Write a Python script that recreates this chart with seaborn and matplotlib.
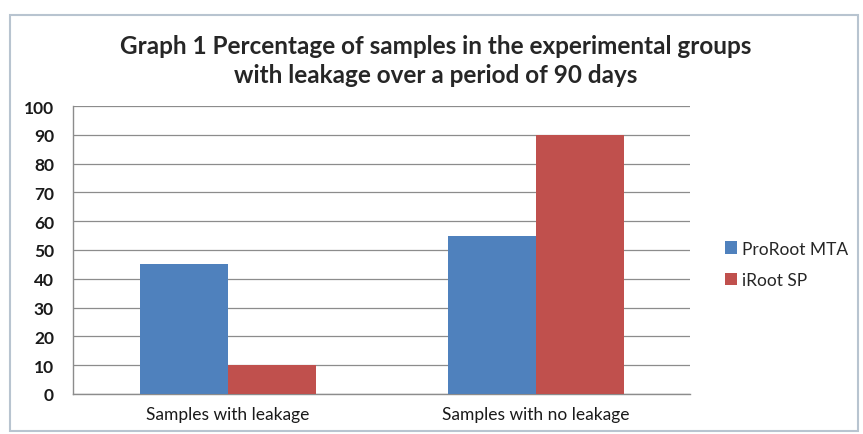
import seaborn as sns
import pandas as pd
from matplotlib import pyplot as plt
from matplotlib.patches import Rectangle

# values
categories = ["Samples with leakage", "Samples with no leakage"]
proroot_mta = [45, 55]
iroot_sp = [10, 90]
series_names = ["ProRoot MTA", "iRoot SP"]

df = pd.DataFrame({
    "category": categories * 2,
    "value": proroot_mta + iroot_sp,
    "material": [series_names[0]] * 2 + [series_names[1]] * 2,
})

sns.set_style("white")
plt.rcParams['font.family'] = ['Lato', 'DejaVu Sans']

fig = plt.figure(figsize=(8.63, 4.35), dpi=100)
ax = fig.add_axes([0.085, 0.092, 0.715, 0.662])

sns.barplot(data=df, x="category", y="value", hue="material",
            palette=["#4F81BD", "#C0504D"], width=0.57, saturation=1,
            linewidth=0, ax=ax, zorder=3)

ax.set_ylim(0, 100)
ax.set_yticks(range(0, 101, 10))
ax.yaxis.grid(True, color="#8c8c8c", linewidth=0.9, zorder=0)
ax.set_axisbelow(True)
for side in ["top", "right"]:
    ax.spines[side].set_visible(False)
for side in ["left", "bottom"]:
    ax.spines[side].set_color("#8c8c8c")
    ax.spines[side].set_linewidth(1.0)
ax.tick_params(axis="both", length=0, labelsize=12.5, colors="#1a1a1a")
ax.tick_params(axis="x", pad=9)
ax.tick_params(axis="y", pad=14)
for lbl in ax.get_yticklabels():
    lbl.set_fontweight("bold")
ax.set_xlabel("")
ax.set_ylabel("")

ax.legend(loc="center left", bbox_to_anchor=(1.03, 0.45), frameon=False,
          fontsize=12.5, handlelength=0.7, handleheight=0.7,
          handletextpad=0.3, labelspacing=0.9)

fig.suptitle("Graph 1 Percentage of samples in the experimental groups\n"
             "with leakage over a period of 90 days",
             x=0.505, y=0.92, fontsize=17.5, fontweight="bold",
             linespacing=1.35)

# chart frame
fig.patches.append(Rectangle((0.012, 0.008), 0.982, 0.955,
                             transform=fig.transFigure, fill=False,
                             edgecolor="#b8c4d0", linewidth=1.5))

plt.savefig("out.png", dpi=100)
